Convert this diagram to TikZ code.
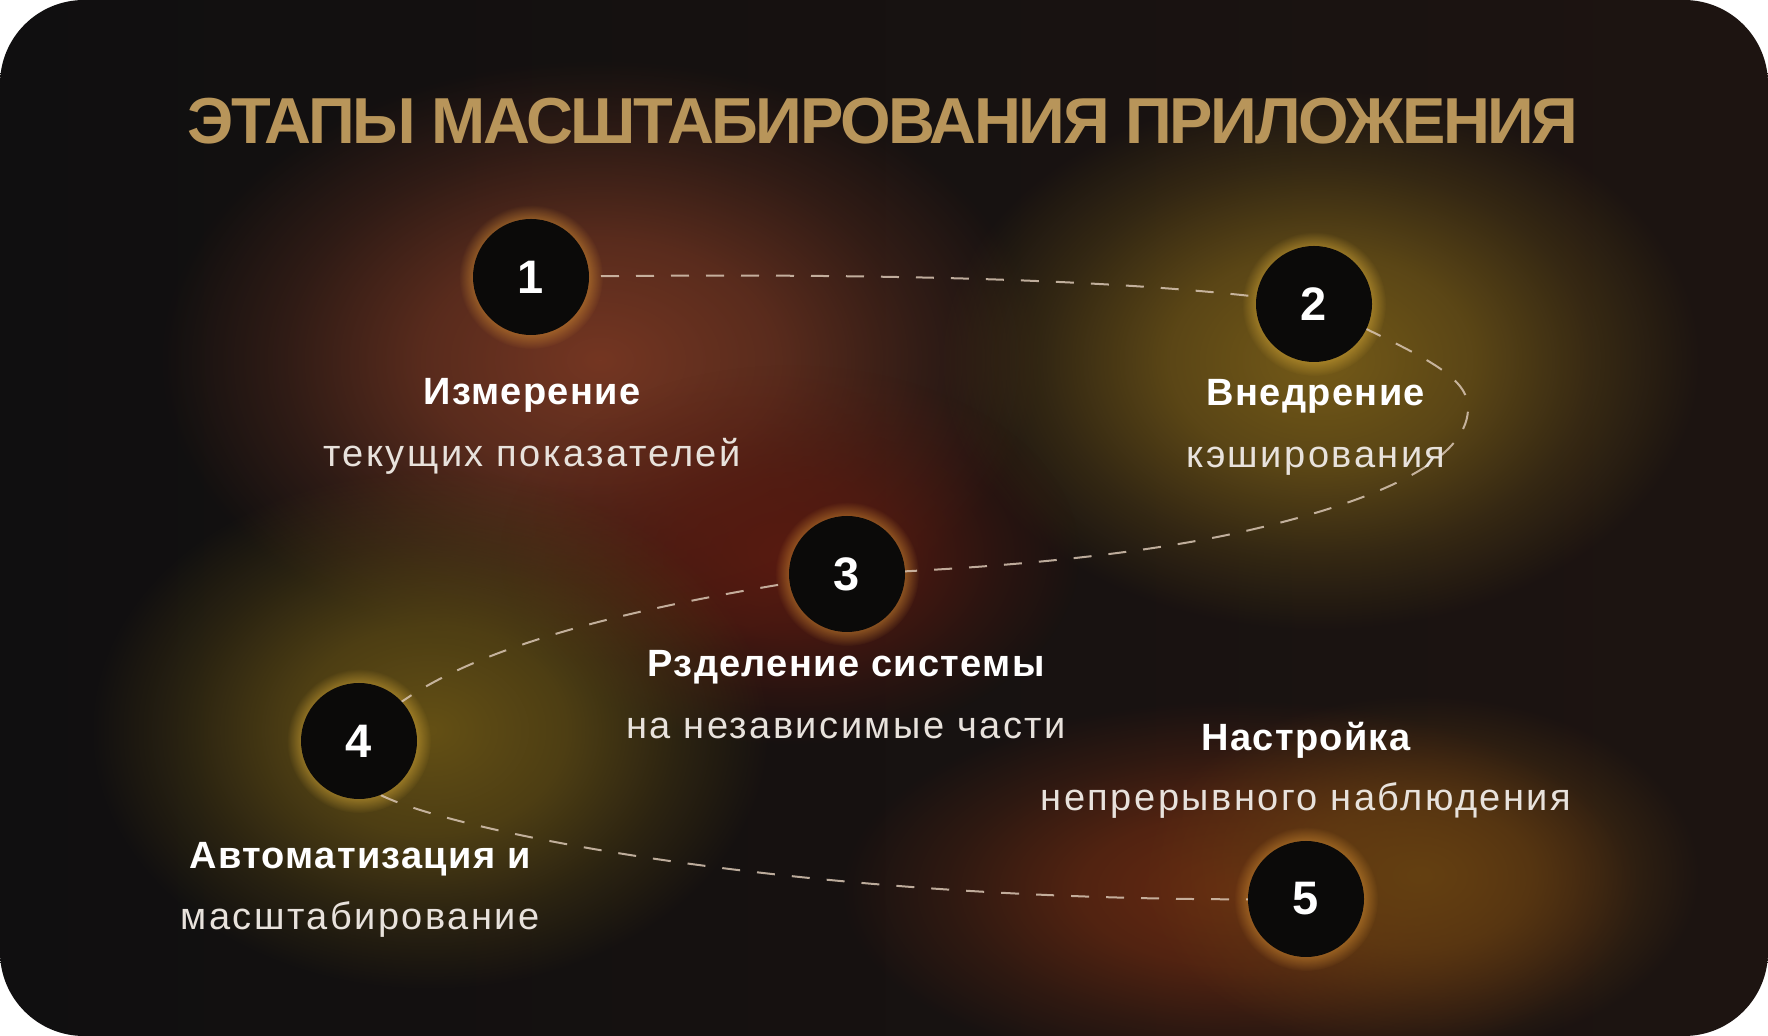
\documentclass[tikz,border=0pt]{standalone}
\usepackage{fontspec}
\setmainfont{Liberation Sans}
\newfontfamily\boldlabfont[LetterSpace=3.5]{Liberation Sans}
\newfontfamily\reglabfont[LetterSpace=6.5]{Liberation Sans}
\newfontfamily\titlefont[LetterSpace=-3.7]{Liberation Sans}
\usetikzlibrary{fadings}
\definecolor{bgA}{HTML}{100F10}
\definecolor{bgB}{HTML}{1D1411}
\definecolor{titlecol}{HTML}{B8955A}
\definecolor{dashcol}{HTML}{D9C6B4}
\definecolor{discfill}{HTML}{0B0A09}
\definecolor{subcol}{HTML}{E8E2DC}
\definecolor{glowRed}{HTML}{743622}
\definecolor{glowGold}{HTML}{745A18}
\definecolor{glowDark}{HTML}{581A10}
\definecolor{glowOlive}{HTML}{645015}
\definecolor{glowRust}{HTML}{682A12}
\definecolor{glowAmber}{HTML}{644012}
\definecolor{haloOr}{HTML}{D08A30}
\definecolor{haloGd}{HTML}{D2A535}
\pgfdeclareradialshading{glowshade}{\pgfpointorigin}{color(0bp)=(white); color(10bp)=(white!72!black); color(18bp)=(white!30!black); color(25bp)=(black); color(50bp)=(black)}
\pgfdeclarefading{glowfade}{\pgfuseshading{glowshade}}
\pgfdeclareradialshading{haloshade}{\pgfpointorigin}{color(0bp)=(white); color(20bp)=(white); color(25bp)=(black); color(50bp)=(black)}
\pgfdeclarefading{halofade}{\pgfuseshading{haloshade}}
\pgfdeclarelayer{glowlayer}
\pgfdeclarelayer{pathlayer}
\pgfsetlayers{glowlayer,pathlayer,main}
\tikzset{
  stepdisc/.style={circle, fill=discfill, minimum size=58pt, inner sep=0pt, text=white,
    font=\bfseries\fontsize{23.5}{24}\selectfont},
  boldlab/.style={anchor=base, inner sep=0pt, text=white, font=\boldlabfont\bfseries\fontsize{19}{20}\selectfont},
  reglab/.style={anchor=base, inner sep=0pt, text=subcol, font=\reglabfont\fontsize{19}{20}\selectfont},
  dashline/.style={draw=dashcol, draw opacity=0.85, line width=1pt, dash pattern=on 9pt off 8.5pt},
  blob/.style={fill=#1, path fading=glowfade},
  halo/.style={fill=#1, fill opacity=0.5, path fading=halofade}
}
\begin{document}
\begin{tikzpicture}[x=0.5pt,y=-0.5pt]
\useasboundingbox (0,0) rectangle (1768,1036);
% discs
\node[stepdisc] (c1) at (531,277) {1};
\node[stepdisc] (c2) at (1314,304) {2};
\node[stepdisc] (c3) at (847,574) {3};
\node[stepdisc] (c4) at (359,741) {4};
\node[stepdisc] (c5) at (1306,899) {5};
% title
\node[anchor=base, inner sep=0pt, text=titlecol, font=\titlefont\bfseries\fontsize{32.5}{36}\selectfont] (title) at (883,144) {ЭТАПЫ МАСШТАБИРОВАНИЯ ПРИЛОЖЕНИЯ};
% labels
\node[boldlab] (t1) at (532,405) {Измерение};
\node[reglab]  (s1) at (532,467) {текущих показателей};
\node[boldlab] (t2) at (1316,406) {Внедрение};
\node[reglab]  (s2) at (1316,468) {кэширования};
\node[boldlab] (t3) at (846,677) {Рзделение системы};
\node[reglab]  (s3) at (846,739) {на независимые части};
\node[boldlab] (t5) at (1306,751) {Настройка};
\node[reglab]  (s5) at (1306,811) {непрерывного наблюдения};
\node[boldlab] (t4) at (360,869) {Автоматизация и};
\node[reglab]  (s4) at (360,930) {масштабирование};
\begin{pgfonlayer}{glowlayer}
  \fill[white] (0,0) rectangle (1768,1036);
  \shade[left color=bgA, right color=bgB, rounded corners=42pt] (0,0) rectangle (1768,1036);
  \fill[blob=glowRed] (600,360) ellipse (440 and 300);
  \fill[blob=glowGold] (1320,360) ellipse (380 and 270);
  \fill[blob=glowDark] (790,555) ellipse (290 and 190);
  \fill[blob=glowOlive] (430,730) ellipse (340 and 260);
  \fill[blob=glowRust] (1240,890) ellipse (400 and 190);
  \fill[blob=glowAmber] (1420,875) ellipse (280 and 180);
  \fill[halo=haloOr] (c1.center) circle (72);
  \fill[halo=haloGd] (c2.center) circle (72);
  \fill[halo=haloOr] (c3.center) circle (72);
  \fill[halo=haloGd] (c4.center) circle (72);
  \fill[halo=haloOr] (c5.center) circle (72);
\end{pgfonlayer}
\begin{pgfonlayer}{pathlayer}
  \draw[dashline] (c1.center) .. controls (900,272) and (1150,280) .. (c2.center)
    .. controls (1420,355) and (1470,375) .. (1468,410)
    .. controls (1466,460) and (1380,500) .. (1250,530)
    .. controls (1120,560) and (950,570) .. (c3.center)
    .. controls (640,605) and (430,650) .. (c4.center);
  \draw[dashline] (c4.-68) .. controls (450,830) and (800,905) .. (c5.center);
\end{pgfonlayer}
\end{tikzpicture}
\end{document}
